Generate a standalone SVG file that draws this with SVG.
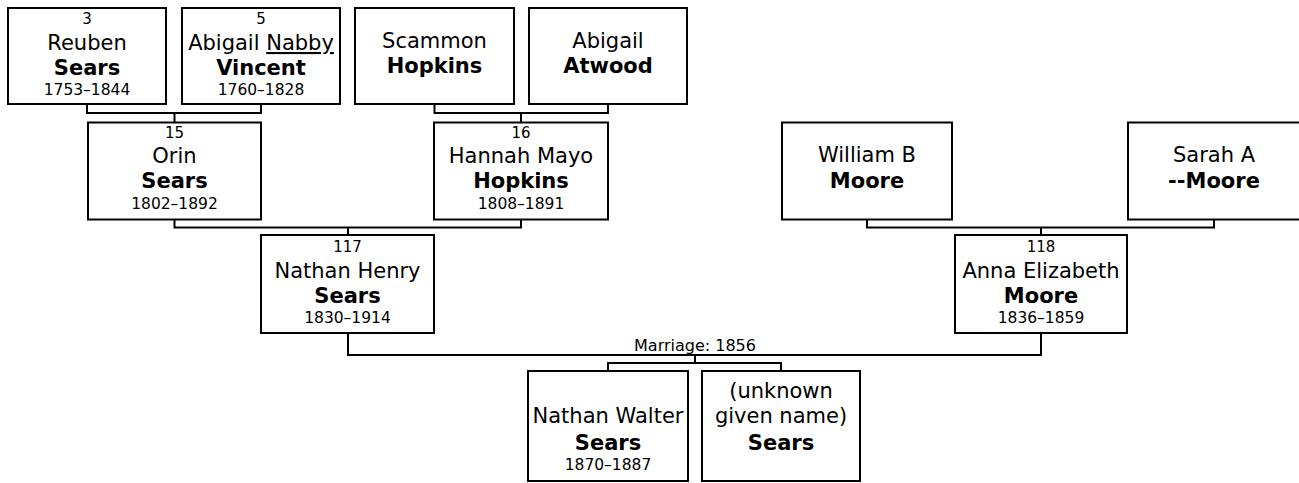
<svg xmlns="http://www.w3.org/2000/svg" width="1299" height="483" viewBox="0 0 1299 483">
<style>
.box{fill:#fff;stroke:#000;stroke-width:2}
.ln{fill:none;stroke:#000;stroke-width:2}
text{font-family:"DejaVu Sans","Verdana",sans-serif;fill:#000;text-anchor:middle}
.n{font-size:15px}
.g{font-size:21px}
.s{font-size:21px;font-weight:bold}
.d{font-size:15.5px}
.m{font-size:16px}
.u{text-decoration:underline}
</style>
<rect width="1299" height="483" fill="#fff"/>
<g id="connectors">
<path class="ln" d="M87,104 V113 H261 V104 M174.5,113 V122.5"/>
<path class="ln" d="M434.5,104 V113 H608 V104 M521,113 V122.5"/>
<path class="ln" d="M174.5,219.5 V227.5 H521 V219.5 M348,227.5 V235"/>
<path class="ln" d="M867,219.5 V227.5 H1214 V219.5 M1041,227.5 V235"/>
<path class="ln" d="M348,333 V355 H1041 V333 M695,355 V363 M608,371 V363 H781 V371"/>
<text class="m" x="695" y="351">Marriage: 1856</text>
</g>
<g id="p3">
<rect class="box" x="8" y="8" width="158" height="96"/>
<text class="n" x="87" y="24">3</text>
<text class="g" x="87" y="50">Reuben</text>
<text class="s" x="87" y="75">Sears</text>
<text class="d" x="87" y="95">1753–1844</text>
</g>
<g id="p5">
<rect class="box" x="182" y="8" width="158" height="96"/>
<text class="n" x="261" y="24">5</text>
<text class="g" x="261" y="50">Abigail <tspan class="u">Nabby</tspan></text>
<text class="s" x="261" y="75">Vincent</text>
<text class="d" x="261" y="95">1760–1828</text>
</g>
<g id="scammon">
<rect class="box" x="355" y="8" width="159" height="96"/>
<text class="g" x="434.5" y="48">Scammon</text>
<text class="s" x="434.5" y="73">Hopkins</text>
</g>
<g id="atwood">
<rect class="box" x="529" y="8" width="158" height="96"/>
<text class="g" x="608" y="48">Abigail</text>
<text class="s" x="608" y="73">Atwood</text>
</g>
<g id="p15">
<rect class="box" x="88" y="122.5" width="173" height="97"/>
<text class="n" x="174.5" y="137.5">15</text>
<text class="g" x="174.5" y="163">Orin</text>
<text class="s" x="174.5" y="188">Sears</text>
<text class="d" x="174.5" y="209">1802–1892</text>
</g>
<g id="p16">
<rect class="box" x="434" y="122.5" width="174" height="97"/>
<text class="n" x="521" y="137.5">16</text>
<text class="g" x="521" y="163">Hannah Mayo</text>
<text class="s" x="521" y="188">Hopkins</text>
<text class="d" x="521" y="209">1808–1891</text>
</g>
<g id="william">
<rect class="box" x="782" y="122.5" width="170" height="97"/>
<text class="g" x="867" y="162">William B</text>
<text class="s" x="867" y="188">Moore</text>
</g>
<g id="sarah">
<rect class="box" x="1128" y="122.5" width="172" height="97"/>
<text class="g" x="1214" y="162">Sarah A</text>
<text class="s" x="1214" y="188">--Moore</text>
</g>
<g id="p117">
<rect class="box" x="261" y="235" width="173" height="98"/>
<text class="n" x="347.5" y="252">117</text>
<text class="g" x="347.5" y="278">Nathan Henry</text>
<text class="s" x="347.5" y="303">Sears</text>
<text class="d" x="347.5" y="323">1830–1914</text>
</g>
<g id="p118">
<rect class="box" x="955" y="235" width="172" height="98"/>
<text class="n" x="1041" y="252">118</text>
<text class="g" x="1041" y="278">Anna Elizabeth</text>
<text class="s" x="1041" y="303">Moore</text>
<text class="d" x="1041" y="323">1836–1859</text>
</g>
<g id="walter">
<rect class="box" x="528" y="371" width="160" height="110"/>
<text class="g" x="608" y="423">Nathan Walter</text>
<text class="s" x="608" y="450">Sears</text>
<text class="d" x="608" y="470">1870–1887</text>
</g>
<g id="unknown">
<rect class="box" x="702" y="371" width="158" height="110"/>
<text class="g" x="781" y="398">(unknown</text>
<text class="g" x="781" y="423">given name)</text>
<text class="s" x="781" y="450">Sears</text>
</g>
</svg>
